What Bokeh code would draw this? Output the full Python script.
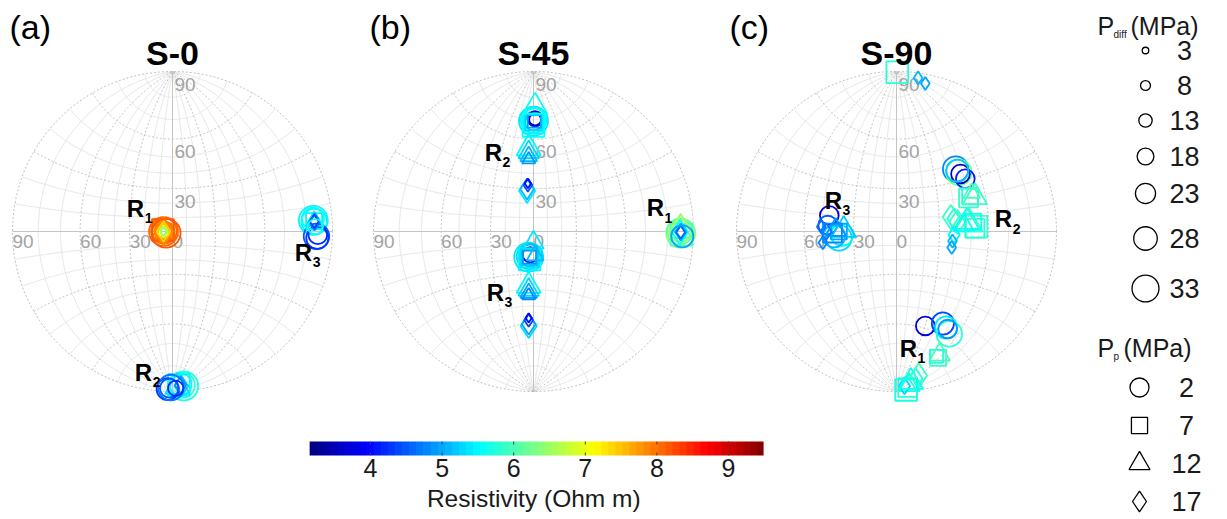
import numpy as np
from bokeh.plotting import figure
from bokeh.models import Range1d, ColumnDataSource, LinearColorMapper
from bokeh.layouts import row, column
from bokeh.embed import file_html
from bokeh.resources import INLINE
from bokeh.core.properties import value

FONT = value("Liberation Sans")

# ---------------- data ----------------
RHO_LOW, RHO_HIGH = 3.15, 9.49
CBAR_TICKS = [4, 5, 6, 7, 8, 9]
CBAR_LABEL = "Resistivity (Ohm m)"
PDIFF_LEVELS = [3, 8, 13, 18, 23, 28, 33]
PP_LEVELS = [2, 7, 12, 17]
PANEL_TITLES = ["S-0", "S-45", "S-90"]
PANEL_LETTERS = ["(a)", "(b)", "(c)"]

# panel (a) S-0 : projected net coordinates, Pdiff (MPa), Pp (MPa), resistivity (Ohm m)
a_x = [-0.056, -0.054, -0.058, -0.052, -0.056, -0.060, -0.056, -0.056, -0.056, -0.056, -0.056, -0.056, -0.056, -0.040,
       0.880, 0.885, 0.878, 0.900, 0.905, 0.908, 0.885, 0.886, 0.888, 0.886, 0.893,
       0.070, 0.060, 0.050, 0.040, 0.030, 0.055, 0.050, -0.030, -0.020, -0.010, 0.020]
a_y = [0.000, 0.004, -0.004, 0.000, 0.002, 0.010, 0.000, 0.000, -0.004, 0.000, 0.000, 0.000, 0.000, -0.010,
       0.070, 0.062, 0.080, -0.030, -0.040, -0.020, 0.065, 0.066, 0.060, 0.062, 0.030,
       -0.965, -0.960, -0.955, -0.960, -0.970, -0.965, -0.960, -0.985, -0.980, -0.975, -0.980]
a_pdiff = [33, 28, 23, 18, 13, 28, 18, 23, 13, 28, 18, 8, 3, 33,
           33, 28, 23, 28, 23, 18, 18, 13, 13, 8, 13,
           33, 28, 23, 28, 23, 18, 13, 23, 18, 28, 13]
a_pp = [2, 2, 2, 2, 2, 7, 7, 12, 12, 17, 17, 17, 17, 2,
        2, 2, 2, 2, 2, 2, 7, 12, 17, 17, 2,
        2, 2, 2, 7, 12, 17, 17, 2, 2, 2, 2]
a_rho = [8.10, 8.05, 8.00, 7.95, 7.90, 8.15, 8.00, 8.05, 7.80, 7.90, 7.40, 6.90, 6.50, 8.20,
         5.45, 5.50, 5.60, 4.50, 4.30, 4.20, 5.50, 5.40, 4.70, 4.40, 5.60,
         5.70, 5.90, 5.60, 5.50, 5.40, 5.20, 4.90, 4.30, 4.50, 4.70, 4.20]

# panel (b) S-45
b_x = [0.000, 0.000, 0.005, 0.000, 0.010, 0.010, 0.000, 0.000, 0.000, 0.005, 0.010,
       -0.030, -0.030, -0.030, -0.030,
       -0.040, -0.040, -0.035, -0.035,
       -0.030, -0.025, -0.020, -0.020, -0.025, -0.025, -0.025, -0.025, 0.000, 0.010,
       -0.030, -0.030, -0.030, -0.030,
       -0.030, -0.030, -0.030, -0.030,
       0.920, 0.915, 0.920, 0.925, 0.920, 0.920, 0.915, 0.920, 0.920, 0.930]
b_y = [0.690, 0.695, 0.700, 0.690, 0.705, 0.700, 0.660, 0.670, 0.680, 0.690, 0.780,
       0.520, 0.495, 0.470, 0.450,
       0.255, 0.265, 0.290, 0.300,
       -0.160, -0.155, -0.150, -0.145, -0.175, -0.165, -0.160, -0.160, -0.070, -0.150,
       -0.340, -0.365, -0.385, -0.400,
       -0.590, -0.580, -0.555, -0.540,
       -0.010, 0.000, 0.005, -0.020, 0.010, 0.000, -0.005, -0.003, -0.005, -0.030]
b_pdiff = [33, 28, 23, 18, 13, 8, 28, 23, 18, 13, 23,
           23, 18, 13, 8,
           23, 18, 8, 3,
           33, 28, 23, 13, 28, 23, 18, 13, 18, 13,
           23, 18, 13, 8,
           23, 18, 8, 3,
           33, 28, 23, 28, 28, 18, 23, 13, 8, 23]
b_pp = [2, 2, 2, 2, 2, 2, 7, 7, 7, 7, 12,
        12, 12, 12, 12,
        17, 17, 17, 17,
        2, 2, 2, 2, 7, 7, 7, 7, 12, 12,
        12, 12, 12, 12,
        17, 17, 17, 17,
        2, 2, 2, 7, 12, 12, 17, 17, 17, 2]
b_rho = [5.40, 5.50, 5.60, 5.20, 3.80, 3.60, 5.60, 5.50, 5.30, 5.00, 5.60,
         5.50, 5.30, 5.10, 4.90,
         5.40, 5.10, 4.50, 4.00,
         5.40, 5.30, 5.10, 3.90, 5.50, 5.40, 5.20, 4.90, 5.40, 5.10,
         5.50, 5.30, 5.00, 4.80,
         5.30, 5.00, 4.40, 4.00,
         6.30, 6.20, 6.40, 6.00, 6.50, 6.10, 5.60, 5.00, 4.60, 5.00]

# panel (c) S-90
c_x = [0.005, 0.135, 0.180,
       0.370, 0.390, 0.400, 0.430, 0.380,
       0.450, 0.460, 0.490, 0.470,
       0.340, 0.360, 0.380, 0.450, 0.440, 0.420, 0.500, 0.490, 0.480, 0.360, 0.350, 0.345,
       -0.420, -0.430, -0.360, -0.340, -0.390, -0.330, -0.380, -0.360, -0.460, -0.470, -0.440, -0.400,
       0.180, 0.290, 0.310, 0.330, 0.320, 0.260, 0.270, 0.250,
       0.070, 0.080, 0.120, 0.140, 0.050, 0.090, 0.060]
c_y = [0.995, 0.960, 0.925,
       0.390, 0.370, 0.360, 0.330, 0.380,
       0.210, 0.220, 0.215, 0.240,
       0.090, 0.080, 0.060, 0.050, 0.060, 0.040, 0.030, 0.020, 0.060, -0.020, -0.060, -0.100,
       0.100, 0.040, -0.040, -0.020, -0.030, 0.010, 0.010, 0.000, -0.070, 0.030, 0.000, -0.010,
       -0.590, -0.575, -0.600, -0.640, -0.610, -0.790, -0.770, -0.780,
       -0.975, -0.960, -0.920, -0.900, -0.965, -0.940, -0.990]
c_pdiff = [28, 8, 8,
           28, 28, 18, 18, 23,
           23, 18, 23, 13,
           23, 18, 23, 28, 23, 18, 28, 23, 18, 13, 8, 8,
           18, 18, 28, 23, 23, 23, 18, 18, 8, 8, 13, 23,
           18, 23, 23, 28, 18, 18, 18, 13,
           23, 18, 18, 23, 13, 23, 28]
c_pp = [7, 17, 17,
        2, 2, 2, 2, 2,
        7, 7, 12, 12,
        17, 17, 17, 12, 12, 12, 7, 7, 7, 17, 17, 17,
        2, 2, 2, 2, 2, 12, 12, 7, 17, 17, 17, 7,
        2, 2, 2, 2, 2, 7, 12, 7,
        7, 12, 17, 17, 17, 12, 7]
c_rho = [5.80, 5.10, 5.00,
         4.80, 6.30, 3.60, 4.10, 5.20,
         5.90, 5.80, 5.90, 6.00,
         5.90, 5.80, 5.90, 5.90, 5.70, 5.60, 5.90, 5.80, 5.60, 5.50, 5.10, 5.00,
         3.70, 4.50, 5.30, 5.50, 5.10, 5.20, 4.90, 5.00, 4.80, 4.60, 4.70, 4.80,
         3.70, 4.40, 5.40, 5.80, 4.90, 5.90, 6.00, 5.80,
         5.80, 5.70, 5.80, 5.90, 5.30, 5.60, 5.70]

# region labels (R index, net x, net y)
a_lab = [(1, -0.231, 0.144), (3, 0.819, -0.131), (2, -0.181, -0.881)]
b_lab = [(2, -0.250, 0.494), (1, 0.7625, 0.150), (3, -0.2375, -0.381)]
c_lab = [(3, -0.394, 0.194), (2, 0.669, 0.081), (1, 0.075, -0.731)]

# ---------------- styling ----------------
def jet(n):
    out = []
    for i in range(n):
        t = (i + 0.5) / n
        r = min(max(1.5 - abs(4 * t - 3), 0), 1)
        g = min(max(1.5 - abs(4 * t - 2), 0), 1)
        b = min(max(1.5 - abs(4 * t - 1), 0), 1)
        out.append("#%02x%02x%02x" % (int(r * 255), int(g * 255), int(b * 255)))
    return out

JET = jet(64)
mapper = LinearColorMapper(palette=JET, low=RHO_LOW, high=RHO_HIGH)
MARK = {2: "circle", 7: "square", 12: "triangle", 17: "diamond"}
MSCALE = {2: 1.0, 7: 0.85, 12: 1.1, 17: 1.1}


def msize(pd, pp):
    return (6.5 + 0.68 * pd) * MSCALE[pp]


R = 160.0
H_NET = 420
NET_GRAY = "#a3a3a3"


def net_fig(width, cx):
    cy = 231
    p = figure(width=width, height=H_NET,
               x_range=Range1d(-cx / R, (width - cx) / R),
               y_range=Range1d(-(H_NET - cy) / R, cy / R),
               output_backend="svg", toolbar_location=None,
               x_axis_location=None, y_axis_location=None, min_border=0)
    p.grid.visible = False
    p.outline_line_color = None
    p.background_fill_color = "white"
    p.border_fill_color = "white"

    phi = np.radians(np.linspace(-90, 90, 361))
    light_x, light_y, dark_x, dark_y = [], [], [], []
    for deg in range(-80, 90, 10):
        if deg == 0:
            continue
        lam = np.radians(deg)
        den = 1 + np.cos(phi) * np.cos(lam)
        mx = list(np.cos(phi) * np.sin(lam) / den)
        my = list(np.sin(phi) / den)
        lat = lam
        den2 = 1 + np.cos(lat) * np.cos(phi)
        sx = list(np.cos(lat) * np.sin(phi) / den2)
        sy = list(np.sin(lat) / den2)
        if deg % 30 == 0:
            dark_x += [mx, sx]
            dark_y += [my, sy]
        else:
            light_x += [mx, sx]
            light_y += [my, sy]
    p.multi_line(light_x, light_y, line_color="#e0e0e0", line_width=0.8)
    p.multi_line(dark_x, dark_y, line_color="#a8a8a8", line_width=0.7, line_dash="2 2")
    t = np.linspace(0, 2 * np.pi, 400)
    p.line(np.cos(t), np.sin(t), line_color="#b0b0b0", line_width=0.8, line_dash="2 2")
    p.segment(x0=[-1, 0], y0=[0, -1], x1=[1, 0], y1=[0, 1], line_color="#c4c4c4", line_width=1)

    vt = [np.tan(np.radians(15)), np.tan(np.radians(30)), 1.0]
    p.text(x=[0, 0, 0], y=vt, text=["30", "60", "90"], x_offset=2, y_offset=6,
           text_align="left", text_baseline="top", text_color=NET_GRAY,
           text_font=FONT, text_font_size="19px")
    hx = [-1.0, -np.tan(np.radians(30)), -np.tan(np.radians(15)), 0.0]
    p.text(x=hx, y=[0, 0, 0, 0], text=["90", "60", "30", "0"], x_offset=0, y_offset=3,
           text_align="left", text_baseline="top", text_color=NET_GRAY,
           text_font=FONT, text_font_size="19px")
    return p, cx


def add_panel(p, cx, xs, ys, pdiff, pp, rho, labels, title, letter):
    src = ColumnDataSource(dict(x=xs, y=ys, rho=rho,
                                size=[msize(d, q) for d, q in zip(pdiff, pp)],
                                marker=[MARK[q] for q in pp]))
    p.scatter("x", "y", source=src, marker="marker", size="size",
              fill_alpha=0, line_width=1.8,
              line_color={"field": "rho", "transform": mapper})
    p.text(x=[0], y=[(231 - 52) / R], text=[title], text_align="center",
           text_baseline="middle", text_font=FONT, text_font_style="bold",
           text_font_size="34px", text_color="black")
    p.text(x=[(9 - cx) / R], y=[(231 - 26) / R], text=[letter], text_align="left",
           text_baseline="middle", text_font=FONT, text_font_size="34px", text_color="black")
    p.text(x=[l[1] for l in labels], y=[l[2] for l in labels], text=["R"] * len(labels),
           text_align="center", text_baseline="middle", text_font=FONT,
           text_font_style="bold", text_font_size="24px", text_color="black")
    p.text(x=[l[1] for l in labels], y=[l[2] for l in labels], text=[str(l[0]) for l in labels],
           x_offset=13, y_offset=10, text_align="center", text_baseline="middle",
           text_font=FONT, text_font_style="bold", text_font_size="14px", text_color="black")


fa, ca = net_fig(360, 172)
add_panel(fa, ca, a_x, a_y, a_pdiff, a_pp, a_rho, a_lab, PANEL_TITLES[0], PANEL_LETTERS[0])
fb, cb = net_fig(360, 173)
add_panel(fb, cb, b_x, b_y, b_pdiff, b_pp, b_rho, b_lab, PANEL_TITLES[1], PANEL_LETTERS[1])
fc, cc = net_fig(360, 176)
add_panel(fc, cc, c_x, c_y, c_pdiff, c_pp, c_rho, c_lab, PANEL_TITLES[2], PANEL_LETTERS[2])

# ---------------- colour bar ----------------
PX_PER = 71.6
fcb = figure(width=1080, height=99,
             x_range=Range1d(4 - 370 / PX_PER, 4 + 710 / PX_PER), y_range=Range1d(0, 99),
             output_backend="svg", toolbar_location=None,
             x_axis_location=None, y_axis_location=None, min_border=0)
fcb.grid.visible = False
fcb.outline_line_color = None
grad = np.linspace(RHO_LOW, RHO_HIGH, 64)[None, :]
fcb.image(image=[grad], x=RHO_LOW, y=64, dw=RHO_HIGH - RHO_LOW, dh=14, color_mapper=mapper)
fcb.segment(x0=CBAR_TICKS, y0=[64] * 6, x1=CBAR_TICKS, y1=[67] * 6, line_color="#404040", line_width=1)
fcb.segment(x0=CBAR_TICKS, y0=[78] * 6, x1=CBAR_TICKS, y1=[75] * 6, line_color="#404040", line_width=1)
fcb.text(x=CBAR_TICKS, y=[52] * 6, text=[str(v) for v in CBAR_TICKS], text_align="center",
         text_baseline="middle", text_font=FONT, text_font_size="25px", text_color="#1a1a1a")
fcb.text(x=[(RHO_LOW + RHO_HIGH) / 2 - 0.04], y=[21], text=[CBAR_LABEL], text_align="center",
         text_baseline="middle", text_font=FONT, text_font_size="24.5px", text_color="#1a1a1a")

# ---------------- size / shape legend ----------------
fl = figure(width=147, height=519, x_range=Range1d(1080, 1227), y_range=Range1d(519, 0),
            output_backend="svg", toolbar_location=None,
            x_axis_location=None, y_axis_location=None, min_border=0)
fl.grid.visible = False
fl.outline_line_color = None
size_rows = [50, 85, 120, 156, 193, 238, 288]
fl.scatter(x=[1145] * 7, y=size_rows, size=[(4.5 + 0.68 * d) for d in PDIFF_LEVELS], marker="circle",
           fill_alpha=0, line_color="black", line_width=1.3)
fl.text(x=[1184] * 7, y=size_rows, text=[str(d) for d in PDIFF_LEVELS], text_align="center",
        text_baseline="middle", text_font=FONT, text_font_size="27px", text_color="#1a1a1a")
shape_rows = [387, 425, 463, 501]
fl.scatter(x=[1139] * 4, y=shape_rows, size=[19 * MSCALE[q] for q in PP_LEVELS],
           marker=[MARK[q] for q in PP_LEVELS], fill_alpha=0, line_color="black", line_width=1.3)
fl.text(x=[1186] * 4, y=shape_rows, text=[str(q) for q in PP_LEVELS], text_align="center",
        text_baseline="middle", text_font=FONT, text_font_size="27px", text_color="#1a1a1a")
for yy, sub in [(25, "diff"), (347, "p")]:
    fl.text(x=[1097], y=[yy], text=["P"], text_align="left", text_baseline="middle",
            text_font=FONT, text_font_size="25px", text_color="#1a1a1a")
    fl.text(x=[1113], y=[yy + 9], text=[sub], text_align="left", text_baseline="middle",
            text_font=FONT, text_font_size="10px", text_color="#1a1a1a")
    fl.text(x=[1130 if sub == "diff" else 1123], y=[yy], text=["(MPa)"], text_align="left",
            text_baseline="middle", text_font=FONT, text_font_size="25px", text_color="#1a1a1a")

layout = row(column(row(fa, fb, fc), fcb), fl)
open("out.html", "w").write(file_html(layout, INLINE))
